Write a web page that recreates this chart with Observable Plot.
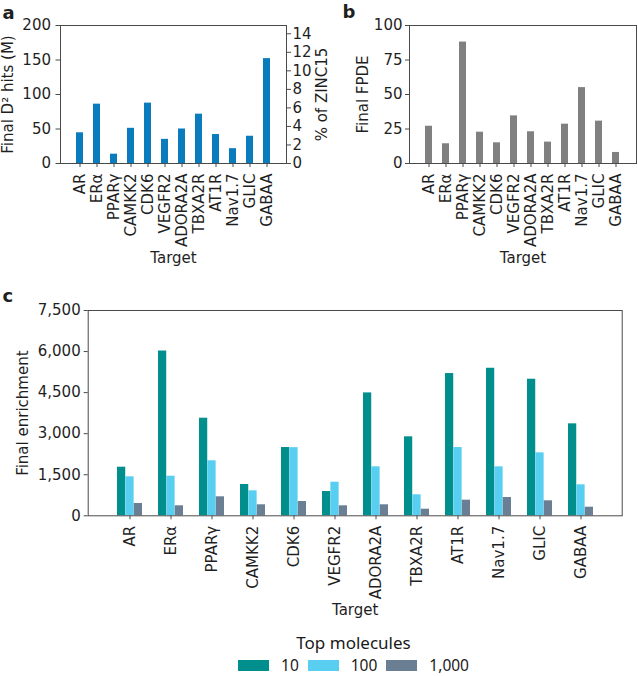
<!DOCTYPE html>
<html>
<head>
<meta charset="utf-8">
<script src="https://cdn.jsdelivr.net/npm/d3@7"></script>
<script src="https://cdn.jsdelivr.net/npm/@observablehq/plot@0.6"></script>
<style>
  html, body { margin: 0; padding: 0; background: #fff; }
  #root { position: relative; width: 638px; height: 676px; background: #fff; overflow: hidden; }
  .panel { position: absolute; }
  #legend-title { position: absolute; left: 0; width: 707px; top: 631px; text-align: center;
    font-family: "Noto Sans", sans-serif; font-size: 17px; line-height: normal; color: #1a1a1a; }
  #legend-row { position: absolute; left: 0; width: 707px; top: 658px; height: 14px;
    display: flex; justify-content: center; align-items: center;
    font-family: "Noto Sans", sans-serif; font-size: 15.5px; line-height: 14px; color: #1a1a1a; }
  .sw { width: 31px; height: 11px; margin-right: 12px; }
  .lab { margin-right: 9px; line-height: 14px; }
</style>
</head>
<body>
<div id="root">
  <div id="pa" class="panel" style="left:0px;top:0px"></div>
  <div id="pb" class="panel" style="left:330px;top:0px"></div>
  <div id="pc" class="panel" style="left:0px;top:290px"></div>
  <div id="legend-title"></div>
  <div id="legend-row"></div>
</div>
<script>
// ---- Data ----
const targets = ["AR", "ERα", "PPARγ", "CAMKK2", "CDK6", "VEGFR2", "ADORA2A", "TBXA2R", "AT1R", "Nav1.7", "GLIC", "GABAA"];
const d2Hits = [44.5, 86, 13.5, 51, 87.5, 35, 50, 71.5, 42, 21.5, 39.5, 152];
const fpde = [27, 14.3, 88, 22.7, 15, 34.5, 23, 15.5, 28.5, 55, 30.7, 8];
const top10 = [1775, 6020, 3565, 1143, 2494, 887, 4490, 2885, 5197, 5390, 4989, 3360];
const top100 = [1424, 1446, 2009, 913, 2490, 1227, 1789, 767, 2494, 1789, 2300, 1132];
const top1000 = [450, 365, 694, 402, 522, 365, 402, 241, 570, 668, 548, 314];
const seriesNames = ["10", "100", "1,000"];
const seriesColors = ["#008f8c", "#58cff0", "#6a7f93"];
const legendTitle = "Top molecules";
const ticksA = [0, 50, 100, 150, 200];
const ticksZinc = [0, 2, 4, 6, 8, 10, 12, 14];
const zincTotalM = 1343; // million molecules = 100% of ZINC15
const ticksB = [0, 25, 50, 75, 100];
const ticksC = [0, 1500, 3000, 4500, 6000, 7500];
const colorA = "#0a7bbd";
const colorB = "#808080";

const rows = (vals) => targets.map((t, i) => ({target: t, v: vals[i]}));
const baseStyle = {fontFamily: "'DejaVu Sans', sans-serif", fontSize: "15px", color: "#1f1f1f", background: "transparent", overflow: "visible"};
const spine = "#4a4a4a";
const label = (s, opts) => Plot.text([s], {text: d => d, fontSize: 15, textAnchor: "middle", ...opts});

// ---- Panel a ----
const pa = Plot.plot({
  width: 330, height: 272,
  marginLeft: 60, marginRight: 44, marginTop: 25, marginBottom: 109,
  style: baseStyle,
  x: {domain: targets, paddingInner: 0.58, paddingOuter: 0.82},
  y: {domain: [0, 200]},
  marks: [
    Plot.barY(rows(d2Hits), {x: "target", y: "v", fill: colorA}),
    Plot.frame({stroke: spine}),
    Plot.axisY({anchor: "left", ticks: ticksA, tickSize: 4.5, tickPadding: 5, label: null, stroke: spine}),
    Plot.axisY({anchor: "right", ticks: ticksZinc.map(p => p * zincTotalM / 100),
      tickFormat: v => String(Math.round(v * 100 / zincTotalM)), tickSize: 4, tickPadding: 2, label: null, stroke: spine}),
    Plot.axisX({tickRotate: -90, tickSize: 4, tickPadding: 6, label: null, stroke: spine}),
    label("Final D² hits (M)", {frameAnchor: "left", rotate: -90, dx: -52}),
    label("% of ZINC15", {frameAnchor: "right", rotate: -90, dx: 36}),
    label("Target", {frameAnchor: "bottom", lineAnchor: "top", dy: 89}),
    label("a", {frameAnchor: "top-left", textAnchor: "start", lineAnchor: "bottom", dx: -58, dy: -7, fontSize: 18, fontWeight: "bold"})
  ]
});
document.getElementById("pa").append(pa);

// ---- Panel b ----
const pb = Plot.plot({
  width: 308, height: 272,
  marginLeft: 79, marginRight: 2, marginTop: 25, marginBottom: 109,
  style: baseStyle,
  x: {domain: targets, paddingInner: 0.58, paddingOuter: 0.82},
  y: {domain: [0, 100]},
  marks: [
    Plot.barY(rows(fpde), {x: "target", y: "v", fill: colorB}),
    Plot.frame({stroke: spine}),
    Plot.axisY({anchor: "left", ticks: ticksB, tickSize: 4, tickPadding: 3, label: null, stroke: spine}),
    Plot.axisX({tickRotate: -90, tickSize: 4, tickPadding: 6, label: null, stroke: spine}),
    label("Final FPDE", {frameAnchor: "left", rotate: -90, dx: -46.5}),
    label("Target", {frameAnchor: "bottom", lineAnchor: "top", dy: 89}),
    label("b", {frameAnchor: "top-left", textAnchor: "start", lineAnchor: "bottom", dx: -67, dy: -8, fontSize: 18, fontWeight: "bold"})
  ]
});
document.getElementById("pb").append(pb);

// ---- Panel c ----
const wC = 638, mlC = 87.7, mrC = 16.3, piC = 0.4, poC = 0.57;
const stepC = (wC - mlC - mrC) / (targets.length - piC + 2 * poC);
const third = stepC * (1 - piC) / 3;
const seriesVals = [top10, top100, top1000];
const pc = Plot.plot({
  width: wC, height: 330,
  marginLeft: mlC, marginRight: mrC, marginTop: 20, marginBottom: 104.7,
  style: baseStyle,
  x: {domain: targets, paddingInner: piC, paddingOuter: poC},
  y: {domain: [0, 7500]},
  marks: [
    ...seriesVals.map((vals, i) => Plot.barY(rows(vals), {
      x: "target", y: "v", fill: seriesColors[i],
      insetLeft: i * third, insetRight: (2 - i) * third
    })),
    Plot.frame({stroke: spine}),
    Plot.axisY({anchor: "left", ticks: ticksC, tickFormat: d3.format(","), tickSize: 4, tickPadding: 3.5, label: null, stroke: spine}),
    Plot.axisX({tickRotate: -90, tickSize: 4, tickPadding: 6, label: null, stroke: spine}),
    label("Final enrichment", {frameAnchor: "left", rotate: -90, dx: -65}),
    label("Target", {frameAnchor: "bottom", lineAnchor: "top", dy: 88.7}),
    label("c", {frameAnchor: "top-left", textAnchor: "start", lineAnchor: "bottom", dx: -85.7, dy: -8.3, fontSize: 18, fontWeight: "bold"})
  ]
});
document.getElementById("pc").append(pc);

// ---- Legend ----
document.getElementById("legend-title").textContent = legendTitle;
const row = document.getElementById("legend-row");
seriesNames.forEach((name, i) => {
  const sw = document.createElement("span");
  sw.className = "sw";
  sw.style.background = seriesColors[i];
  const lab = document.createElement("span");
  lab.className = "lab";
  lab.textContent = name;
  if (i === seriesNames.length - 1) lab.style.marginRight = "0px";
  row.append(sw, lab);
});
</script>
</body>
</html>
